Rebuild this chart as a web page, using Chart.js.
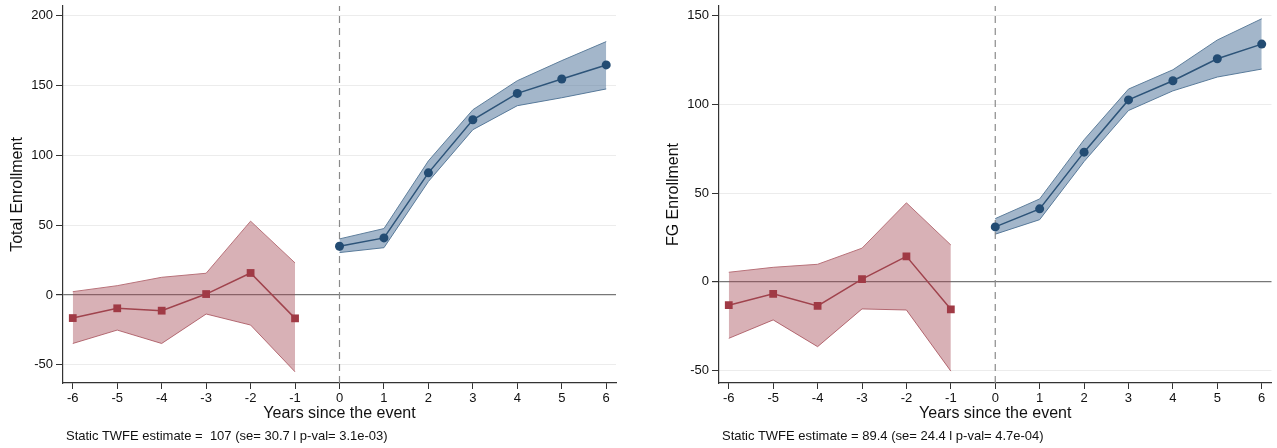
<!DOCTYPE html>
<html>
<head>
<meta charset="utf-8">
<script src="https://cdn.jsdelivr.net/npm/chart.js@4/dist/chart.umd.min.js"></script>
<style>
body { margin:0; background:#fff; width:1277px; height:448px; overflow:hidden; position:relative; font-family:"Liberation Sans", Arial, sans-serif; }
.box { position:absolute; top:0; height:448px; }
.note { position:absolute; top:428px; font-size:13px; color:#111; white-space:pre; }
</style>
</head>
<body>
<div class="box" style="left:0;width:640px"><canvas id="g1"></canvas></div>
<div class="box" style="left:640px;width:637px"><canvas id="g2"></canvas></div>
<div class="note" style="left:66px">Static TWFE estimate =  107 (se= 30.7 l p-val= 3.1e-03)</div>
<div class="note" style="left:722px">Static TWFE estimate = 89.4 (se= 24.4 l p-val= 4.7e-04)</div>
<script>
var preYears = [-6, -5, -4, -3, -2, -1];
var postYears = [0, 1, 2, 3, 4, 5, 6];
var xTicks = [-6, -5, -4, -3, -2, -1, 0, 1, 2, 3, 4, 5, 6];

// Total Enrollment
var totPre = [-16.5, -9.5, -11.2, 0.7, 15.8, -16.7];
var totPreHi = [2.4, 6.7, 12.7, 15.6, 52.9, 23];
var totPreLo = [-34.7, -25.1, -34.7, -13.6, -21.5, -55];
var totPost = [34.9, 40.9, 87.5, 125.5, 144.4, 154.7, 164.8];
var totPostHi = [40.2, 47.6, 96.1, 132.7, 153.5, 167.9, 181.5];
var totPostLo = [30.4, 33.9, 81.3, 118.4, 135.6, 141.3, 147.6];
var totTicks = [-50, 0, 50, 100, 150, 200];

// FG Enrollment
var fgPre = [-13.3, -6.9, -13.7, 1.4, 14.3, -15.6];
var fgPreHi = [5.3, 8.1, 9.8, 18.9, 44.5, 20.7];
var fgPreLo = [-32, -21.6, -36.7, -15.4, -16, -50.5];
var fgPost = [30.9, 41.1, 73.1, 102.6, 113.4, 125.8, 134.1];
var fgPostHi = [35.6, 46.7, 80.1, 108.7, 119.6, 136.4, 148.4];
var fgPostLo = [26.8, 35, 67.8, 96.6, 107.7, 115.5, 120];
var fgTicks = [-50, 0, 50, 100, 150];

function pts(xs, ys){
	var out = [];
	for(var i=0; i<xs.length; i++){
		out.push({x: xs[i], y: ys[i]});
	}
	return out;
}

function makeChart(id, o){
	var red = '#a03a45', blue = '#234c73';
	return new Chart(document.getElementById(id), {
		type: 'line',
		data: {
			datasets: [
				{ data: pts(preYears, o.pre), borderColor: '#a0434d', borderWidth: 1.5, pointStyle: 'rect',
				  pointRadius: 5.5, pointBackgroundColor: red, pointBorderColor: red, pointBorderWidth: 0, order: 0 },
				{ data: pts(postYears, o.post), borderColor: '#2d5479', borderWidth: 1.5, pointStyle: 'circle',
				  pointRadius: 4.5, pointBackgroundColor: blue, pointBorderColor: blue, pointBorderWidth: 0, order: 0 },
				{ data: [{x: 0, y: o.ymin}, {x: 0, y: o.ymax}], borderColor: '#8a8a8a', borderWidth: 1.2,
				  borderDash: [7, 5], pointRadius: 0, order: 1 },
				{ data: pts(preYears, o.preHi), borderColor: '#b8727a', borderWidth: 1, pointRadius: 0,
				  backgroundColor: 'rgba(163,70,82,0.42)', fill: '+1', order: 3 },
				{ data: pts(preYears, o.preLo), borderColor: '#b8727a', borderWidth: 1, pointRadius: 0, order: 3 },
				{ data: pts(postYears, o.postHi), borderColor: '#5f7f9c', borderWidth: 1, pointRadius: 0,
				  backgroundColor: 'rgba(72,110,150,0.5)', fill: '+1', order: 3 },
				{ data: pts(postYears, o.postLo), borderColor: '#5f7f9c', borderWidth: 1, pointRadius: 0, order: 3 }
			]
		},
		options: {
			responsive: false,
			animation: false,
			layout: { padding: { left: o.padLeft, right: o.padRight, top: 6, bottom: 25 } },
			plugins: { legend: { display: false }, tooltip: { enabled: false } },
			scales: {
				x: {
					type: 'linear', min: -6.22, max: 6.22,
					afterBuildTicks: function(s){ s.ticks = xTicks.map(function(v){ return {value: v}; }); },
					afterFit: function(s){ s.height = 40; },
					grid: { drawOnChartArea: false, tickLength: 6, tickColor: '#333', tickWidth: 1 },
					border: { color: '#333', width: 1.2 },
					ticks: { color: '#111', font: { family: 'Liberation Sans', size: 13 }, padding: 2, maxRotation: 0 },
					title: { display: true, text: 'Years since the event', color: '#111',
						font: { family: 'Liberation Sans', size: 16 }, padding: { top: 0, bottom: 0 } }
				},
				y: {
					min: o.ymin, max: o.ymax,
					afterBuildTicks: function(s){ s.ticks = o.yTicks.map(function(v){ return {value: v}; }); },
					afterFit: function(s){ s.width = 63; s.paddingTop = 0; s.paddingBottom = 0; },
					grid: {
						color: function(c){ return c.tick && c.tick.value === 0 ? '#777' : '#ececec'; },
						lineWidth: function(c){ return c.tick && c.tick.value === 0 ? 1.2 : 1; },
						tickLength: 7, tickColor: '#333'
					},
					border: { color: '#333', width: 1.2 },
					ticks: { color: '#111', font: { family: 'Liberation Sans', size: 13 }, padding: 3 },
					title: { display: true, text: o.title, color: '#111',
						font: { family: 'Liberation Sans', size: 16 }, padding: { top: 8, bottom: 0 } }
				}
			}
		}
	});
}

var c1 = document.getElementById('g1'); c1.width = 640; c1.height = 448;
var c2 = document.getElementById('g2'); c2.width = 637; c2.height = 448;

makeChart('g1', { pre: totPre, preHi: totPreHi, preLo: totPreLo, post: totPost, postHi: totPostHi, postLo: totPostLo,
	ymin: -63, ymax: 207, yTicks: totTicks, title: 'Total Enrollment', padLeft: 0, padRight: 24 });
makeChart('g2', { pre: fgPre, preHi: fgPreHi, preLo: fgPreLo, post: fgPost, postHi: fgPostHi, postLo: fgPostLo,
	ymin: -57.2, ymax: 155.6, yTicks: fgTicks, title: 'FG Enrollment', padLeft: 16, padRight: 5 });
</script>
</body>
</html>
